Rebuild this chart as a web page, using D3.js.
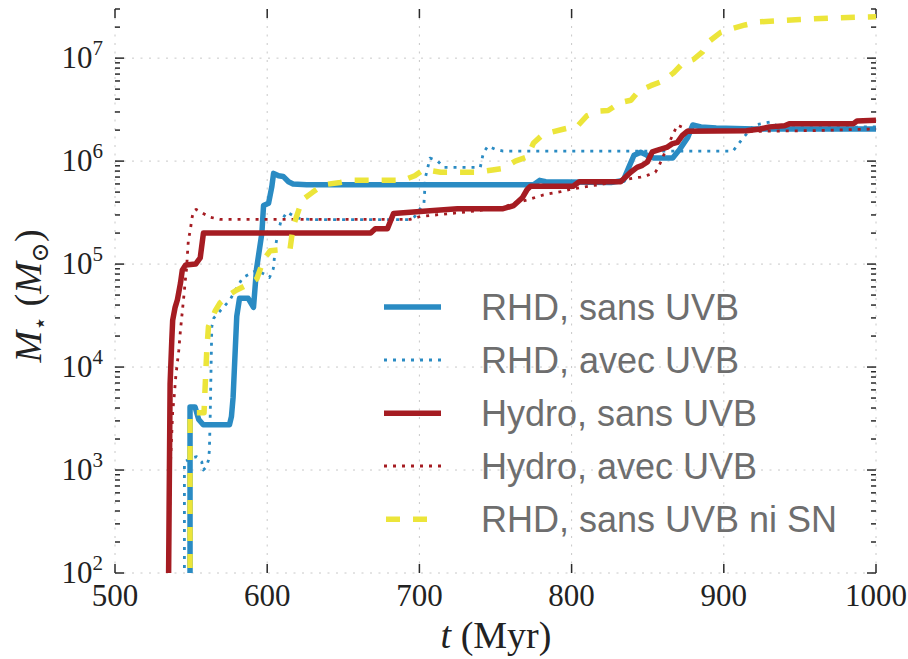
<!DOCTYPE html>
<html>
<head>
<meta charset="utf-8">
<script src="https://cdn.jsdelivr.net/npm/d3@7"></script>
<style>
  html, body { margin: 0; padding: 0; background: #ffffff; }
  svg { display: block; }
</style>
</head>
<body>
<svg id="chart" width="908" height="659"></svg>
<script>
// ---------- data (t in Myr, stellar mass in solar masses) ----------
const seriesLabels = ["RHD, sans UVB", "RHD, avec UVB", "Hydro, sans UVB", "Hydro, avec UVB", "RHD, sans UVB ni SN"];

const rhdSansUvb = [
  [549.3, 10], [549.3, 4100], [552.6, 4100], [555, 3100], [558, 2750], [575.2, 2750], [576.5, 3300],
  [577.6, 5100], [580, 31000], [581.8, 46500], [587.5, 46500], [591, 38000], [593, 90000],
  [596.5, 200000], [597.6, 370000], [600.9, 390000], [603, 560000], [604.2, 760000], [607.5, 720000],
  [610.5, 710000], [614, 630000], [617, 600000], [626, 590000], [775, 590000], [779, 650000],
  [783, 630000], [826, 620000], [834, 650000], [838, 900000], [841, 1.14e6], [845.4, 1.22e6],
  [849, 1.15e6], [854, 1.07e6], [866.4, 1.07e6], [871, 1.3e6], [876.3, 1.7e6], [879.6, 2.24e6],
  [885, 2.15e6], [895, 2.1e6], [920, 2.05e6], [1000, 2.05e6]
];

const rhdAvecUvb = [
  [545.6, 10], [545.6, 1200], [550, 1300], [553.7, 1350], [557, 1200], [558, 1000], [560, 1070],
  [561.4, 1250], [562, 1550], [562.5, 3000], [563.6, 24600], [565, 30000], [569, 35000],
  [575.6, 45000], [580, 59000], [584, 74000], [593, 87000], [598, 80000], [601.5, 74000],
  [604, 90000], [605.5, 150000], [607, 200000], [609, 260000], [613, 320000], [618, 290000],
  [622, 275000], [630, 270000], [693, 270000], [697, 290000], [703, 390000], [704, 700000],
  [707, 1.07e6], [712, 1.0e6], [716, 870000], [740, 870000], [742, 1.2e6], [745, 1.4e6],
  [750, 1.3e6], [755, 1.25e6], [906, 1.25e6], [913, 1.7e6], [920, 2.24e6], [931, 2.4e6],
  [937, 2.1e6], [1000, 2.15e6]
];

const hydroSansUvb = [
  [534.7, 10], [536.2, 6900], [537.3, 18000], [537.9, 28500], [539.5, 38000], [541, 45000],
  [543, 65000], [544.2, 87000], [546.4, 98000], [553, 100000], [555, 110000], [556, 115000],
  [558.1, 200000], [668, 200000], [671, 220000], [679, 220000], [683, 310000], [707, 330000],
  [725, 345000], [755, 345000], [762, 370000], [767.6, 440000], [770.8, 530000], [773, 570000],
  [801, 570000], [805, 630000], [832.2, 630000], [835.5, 700000], [838.8, 780000], [843, 870000],
  [846.5, 910000], [849.8, 980000], [853, 1.23e6], [856, 1.27e6], [863, 1.37e6], [866, 1.47e6],
  [869.5, 1.52e6], [872.8, 1.78e6], [876, 1.95e6], [915, 1.97e6], [924, 2.05e6], [930, 2.15e6],
  [940, 2.2e6], [943, 2.3e6], [985, 2.3e6], [987.5, 2.45e6], [1000, 2.5e6]
];

const hydroAvecUvb = [
  [534.6, 10], [535.5, 200], [536.5, 1200], [537.9, 3700], [538.8, 5000], [540, 8300],
  [541.9, 14500], [542.8, 21000], [543.9, 31000], [545, 45000], [546.3, 72000], [547, 90000],
  [547.6, 125000], [548.2, 170000], [549.5, 215000], [550.5, 275000], [551.5, 325000],
  [553.3, 340000], [558, 310000], [562.5, 285000], [569, 272000], [694, 272000], [700.6, 290000],
  [730, 320000], [755.5, 355000], [762, 390000], [771, 420000], [781.6, 470000], [792.8, 505000],
  [799, 530000], [808, 560000], [821, 600000], [834, 660000], [845.4, 700000], [850, 730000],
  [855, 780000], [857, 870000], [860, 1.1e6], [864, 1.5e6], [867, 1.87e6], [869.5, 2.24e6],
  [873.9, 2.1e6], [878, 1.95e6], [926, 1.95e6], [960, 1.98e6], [1000, 2.05e6]
];

const rhdSansUvbNiSn = [
  [549.3, 10], [549.3, 3600], [558.5, 3600], [559.5, 8000], [560.3, 14500], [561.4, 24700],
  [565.8, 35000], [569, 42000], [575.7, 51000], [580, 56000], [588.8, 65000], [593.2, 72000],
  [597.6, 110000], [602, 135000], [615, 140000], [617, 230000], [623, 420000], [630, 500000],
  [637, 590000], [648, 620000], [655, 650000], [689, 650000], [697, 720000], [702, 810000],
  [707, 810000], [714, 780000], [738, 780000], [748, 820000], [755, 850000], [763, 1.0e6],
  [771, 1.1e6], [775, 1.5e6], [780, 1.75e6], [786, 1.9e6], [795, 2.05e6], [804, 2.2e6],
  [810, 2.75e6], [817, 3.05e6], [824, 3.1e6], [832, 3.7e6], [839, 3.9e6], [844, 4.8e6],
  [852, 5.4e6], [860, 6.0e6], [867, 7.2e6], [873, 8.9e6], [880, 9.7e6], [886, 1.15e7],
  [891, 1.48e7], [898, 1.78e7], [906, 1.95e7], [914, 2.1e7], [923, 2.25e7], [935, 2.3e7],
  [950, 2.37e7], [970, 2.45e7], [990, 2.5e7], [1000, 2.52e7]
];

const xTicks = [500, 600, 700, 800, 900, 1000];
const yExponents = [2, 3, 4, 5, 6, 7];

// ---------- layout ----------
const svg = d3.select("#chart");
const X0 = 115, X1 = 876, Y0 = 573, Y1 = 9;

const x = d3.scaleLinear().domain([500, 1000]).range([X0, X1]);
const y = d3.scaleLog().domain([100, 3e7]).range([Y0, Y1]);

const BLUE = "#2a8bc3", RED = "#a51c22", YELLOW = "#ece53a";
const serif = "'Liberation Serif', 'DejaVu Serif', serif";

// clip
svg.append("defs").append("clipPath").attr("id", "plotclip")
  .append("rect").attr("x", X0).attr("y", Y1).attr("width", X1 - X0).attr("height", Y0 - Y1);

// grid
const grid = svg.append("g");
xTicks.forEach(t => {
  grid.append("line").attr("x1", x(t)).attr("x2", x(t)).attr("y1", Y1).attr("y2", Y0)
    .attr("stroke", "#c8c8c8").attr("stroke-width", 1).attr("stroke-dasharray", "2,6.5");
});
yExponents.forEach(e => {
  grid.append("line").attr("x1", X0).attr("x2", X1).attr("y1", y(Math.pow(10, e))).attr("y2", y(Math.pow(10, e)))
    .attr("stroke", "#c8c8c8").attr("stroke-width", 1).attr("stroke-dasharray", "2,6.5");
});

// ticks (inward, all four sides)
const ticksG = svg.append("g").attr("stroke", "#2a2a2a").attr("stroke-width", 1.5);
const MAJ = 9, MIN = 5;
xTicks.forEach(t => {
  ticksG.append("line").attr("x1", x(t)).attr("x2", x(t)).attr("y1", Y0).attr("y2", Y0 - MAJ);
  ticksG.append("line").attr("x1", x(t)).attr("x2", x(t)).attr("y1", Y1).attr("y2", Y1 + MAJ);
});
const yMinor = [];
for (let e = 2; e <= 7; e++) for (let k = 2; k <= 9; k++) {
  const v = k * Math.pow(10, e);
  if (v <= 3e7 * 1.0001) yMinor.push(v);
}
yExponents.forEach(e => {
  const yy = y(Math.pow(10, e));
  ticksG.append("line").attr("x1", X0).attr("x2", X0 + MAJ).attr("y1", yy).attr("y2", yy);
  ticksG.append("line").attr("x1", X1).attr("x2", X1 - MAJ).attr("y1", yy).attr("y2", yy);
});
yMinor.forEach(v => {
  const yy = y(v);
  ticksG.append("line").attr("x1", X0).attr("x2", X0 + MIN).attr("y1", yy).attr("y2", yy);
  ticksG.append("line").attr("x1", X1).attr("x2", X1 - MIN).attr("y1", yy).attr("y2", yy);
});

// tick labels
xTicks.forEach(t => {
  svg.append("text").attr("x", x(t)).attr("y", 606).attr("text-anchor", "middle")
    .attr("font-family", serif).attr("font-size", 31).attr("fill", "#222").text(t);
});
yExponents.forEach(e => {
  const tx = svg.append("text").attr("x", 103).attr("y", y(Math.pow(10, e)) + 10)
    .attr("text-anchor", "end").attr("font-family", serif).attr("fill", "#222");
  tx.append("tspan").attr("font-size", 31).text("10");
  tx.append("tspan").attr("font-size", 21).attr("dy", -13).text(e);
});

// axis titles
const xt = svg.append("text").attr("x", 496).attr("y", 648).attr("text-anchor", "middle")
  .attr("font-family", serif).attr("font-size", 38).attr("fill", "#222");
xt.append("tspan").attr("font-style", "italic").text("t");
xt.append("tspan").text(" (Myr)");

const yt = svg.append("text").attr("transform", "translate(41,296) rotate(-90)")
  .attr("text-anchor", "middle").attr("font-family", serif).attr("font-size", 38).attr("fill", "#222");
yt.append("tspan").attr("font-style", "italic").text("M");
yt.append("tspan").attr("font-size", 24).attr("dy", 7).text("\u22C6");
yt.append("tspan").attr("dy", -7).text(" (");
yt.append("tspan").attr("font-style", "italic").text("M");
yt.append("tspan").attr("font-size", 24).attr("dy", 7).text("\u2299");
yt.append("tspan").attr("dy", -7).text(")");

// lines
const line = d3.line().x(d => x(d[0])).y(d => y(d[1]));
const series = [
  { data: rhdSansUvb, color: BLUE, width: 5.5, dash: null },
  { data: rhdAvecUvb, color: BLUE, width: 2.8, dash: "3,6" },
  { data: hydroSansUvb, color: RED, width: 5.5, dash: null },
  { data: hydroAvecUvb, color: RED, width: 2.8, dash: "3,6" },
  { data: rhdSansUvbNiSn, color: YELLOW, width: 5.5, dash: "14,13" }
];
const linesG = svg.append("g").attr("clip-path", "url(#plotclip)");
series.forEach(s => {
  linesG.append("path").datum(s.data).attr("d", line)
    .attr("fill", "none").attr("stroke", s.color).attr("stroke-width", s.width)
    .attr("stroke-linejoin", "round")
    .attr("stroke-dasharray", s.dash);
});

// legend
const legRows = [307, 360, 413.3, 466, 519.3];
const leg = svg.append("g");
series.forEach((s, i) => {
  const ly = legRows[i];
  const isYellow = i === 4;
  leg.append("line")
    .attr("x1", isYellow ? 386 : 384).attr("x2", isYellow ? 427 : 441)
    .attr("y1", ly).attr("y2", ly)
    .attr("stroke", s.color).attr("stroke-width", s.width)
    .attr("stroke-dasharray", s.dash);
  leg.append("text").attr("x", 481).attr("y", ly + 13)
    .attr("font-family", "'Liberation Sans', Arial, sans-serif").attr("font-size", 36)
    .attr("fill", "#6e6e6e").text(seriesLabels[i]);
});
</script>
</body>
</html>
